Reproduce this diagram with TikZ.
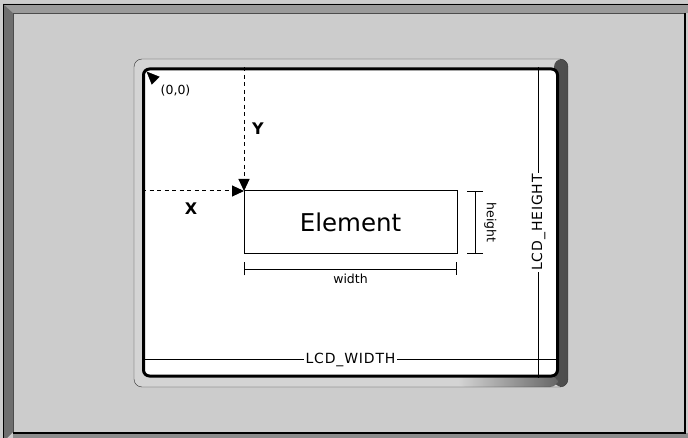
\documentclass[tikz,border=0pt]{standalone}
\usepackage{fontspec}
\setmainfont{DejaVu Sans}
\newfontfamily\lcdfont[LetterSpace=6]{DejaVu Sans}
\usepackage{xcolor}
\usetikzlibrary{arrows.meta, positioning}

\definecolor{panelgray}{HTML}{CCCCCC}
\definecolor{bevelgray}{HTML}{9A9A9A}
\definecolor{shadegray}{HTML}{6E6E6E}
\definecolor{bezelgray}{HTML}{D4D4D4}

\begin{document}
\begin{tikzpicture}[x=1pt, y=-1pt,
  dimline/.style={line width=0.9pt},
  dashedarrow/.style={line width=1pt, dash pattern=on 4pt off 3.5pt, -{Triangle[length=12pt, width=11pt]}},
  lcdlabel/.style={fill=white, inner sep=1.5pt, font=\lcdfont\fontsize{14}{14}\selectfont},
  smalllabel/.style={inner sep=1pt, font=\fontsize{12.5}{13}\selectfont},
  axislabel/.style={font=\bfseries\fontsize{16}{16}\selectfont}]

  \useasboundingbox (0,0) rectangle (688,438);

  \fill[panelgray] (0,0) rectangle (688,438);
  \fill[bevelgray] (3,4) -- (688,4) -- (688,13) -- (13,13) -- cycle;
  \fill[shadegray] (3,4) -- (13,13) -- (13,432) -- (7,438) -- (3,438) -- cycle;
  \fill[black!45] (13,433) rectangle (688,438);
  \draw[line width=1.5pt] (3.5,438) -- (3.5,4.5) -- (688,4.5);
  \draw[line width=1pt, black!70] (13.5,432) -- (13.5,13.5) -- (684,13.5);
  \draw[line width=2pt] (685,13) -- (685,433) -- (13,433);

  \node[fill=bezelgray, rounded corners=8pt, inner sep=0pt, outer sep=0pt,
        minimum width=434pt, minimum height=328pt,
        path picture={
          \shade[left color=black!30, right color=black!70]
            ([xshift=-14pt]path picture bounding box.north east) rectangle (path picture bounding box.south east);
          \shade[left color=bezelgray, right color=black!60]
            ([xshift=-110pt, yshift=11pt]path picture bounding box.south east) rectangle ([xshift=-10pt]path picture bounding box.south east);
        }] (bezel) at (351,223) {};
  \draw[black!80, rounded corners=8pt] (bezel.north west) rectangle (bezel.south east);

  \node[draw, line width=3pt, fill=white, rounded corners=6pt, inner sep=0pt,
        minimum width=414pt, minimum height=307pt] (screen) at (350.5,222.5) {};

  \node[draw, line width=1pt, inner sep=0pt, outer sep=0pt,
        minimum width=213pt, minimum height=63pt,
        font=\fontsize{24.5}{25}\selectfont] (element) at (350.5,222.5) {Element};

  \coordinate (origin) at (146.5,71.5);
  \coordinate (origintail) at (156,81);
  \draw[-{Triangle[length=13pt, width=11pt]}] (origintail) -- (origin);
  \node[smalllabel, inner sep=0pt, below right=13pt and 14pt of origin] (originlabel) {(0,0)};

  \draw[dashedarrow] (element.north west |- screen.north) -- (element.north west);
  \draw[dashedarrow] (screen.west |- element.north west) -- (element.north west);
  \node[axislabel] (ylabel) at (258,129) {Y};
  \node[axislabel] (xlabel) at (191,209) {X};

  \coordinate (widthrow) at (0,269);
  \draw[dimline, {Bar[width=13pt]}-{Bar[width=13pt]}] (element.south west |- widthrow)
    -- node[smalllabel, below=4pt] (widthlabel) {width} (element.south east |- widthrow);

  \coordinate (heightcol) at (475,0);
  \coordinate (heighttext) at (483,0);
  \draw[dimline, {Bar[width=16pt]}-{Bar[width=16pt]}] (element.north east -| heightcol)
    -- (element.south east -| heightcol);
  \node[smalllabel, rotate=-90, anchor=south] (heightlabel) at (heighttext |- element.east) {height};

  \coordinate (lcdrow) at (0,359.5);
  \draw[dimline] (screen.west |- lcdrow) -- node[lcdlabel] (lcdwidth) {LCD\_WIDTH} (screen.east |- lcdrow);

  \coordinate (lcdcol) at (538.5,0);
  \draw[dimline] (lcdcol |- screen.north) -- node[lcdlabel, rotate=90] (lcdheight) {LCD\_HEIGHT} (lcdcol |- screen.south);

\end{tikzpicture}
\end{document}
